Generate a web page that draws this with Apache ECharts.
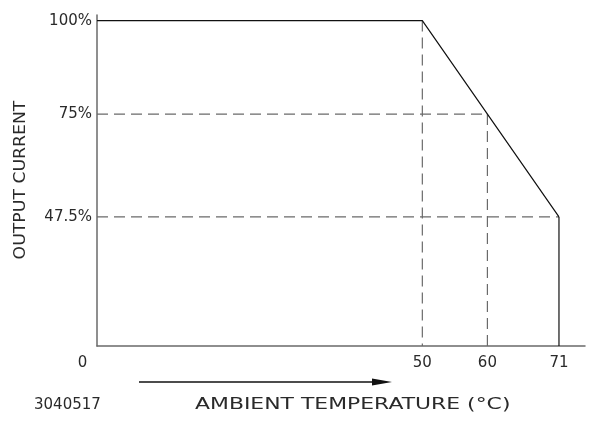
<!DOCTYPE html>
<html>
<head>
<meta charset="utf-8">
<script src="https://cdn.jsdelivr.net/npm/echarts@6/dist/echarts.min.js"></script>
<style>html,body{margin:0;padding:0;background:#fff}#c{width:589px;height:421px}</style>
</head>
<body>
<div id="c"></div>
<script>
// Derating curve: ambient temperature (°C) vs output current (%)
var temps = [0, 50, 71];
var currents = [100, 100, 47.5];
// Guide point on the slope
var guideTemp = 60;
var guideCurrent = 75;
// Tick labels
var xTicks = [0, 50, 60, 71];
var yTicks = [47.5, 75, 100];
var X_MIN = 0, X_MAX = 75;
var Y_MIN = 13, Y_MAX = 101.5;
var xTitle = 'AMBIENT TEMPERATURE (°C)';
var yTitle = 'OUTPUT CURRENT';
var drawingNo = '3040517';

var FONT = 'DejaVu Sans';
var TXT = '#2a2a2a';
var chart = echarts.init(document.getElementById('c'), null, {renderer: 'canvas'});

var curve = temps.map(function (t, i) { return [t, currents[i]]; });
var lastT = temps[temps.length - 1], lastC = currents[currents.length - 1];
var kneeT = temps[1], kneeC = currents[1];

var dash = {color: '#6a6a6a', width: 1.2, type: [11, 6]};
function seg(a, b, style, z) {
  return {type: 'line', data: [a, b], symbol: 'none', silent: true, z: z || 2,
    lineStyle: style, animation: false};
}

chart.setOption({
  animation: false,
  grid: {left: 97, right: 4, top: 15, bottom: 75},
  xAxis: {
    type: 'value', min: X_MIN, max: X_MAX,
    axisLine: {show: true, lineStyle: {color: '#6a6a6a', width: 1.5}},
    axisTick: {show: false},
    splitLine: {show: false},
    axisLabel: {
      customValues: xTicks, margin: 10,
      fontFamily: FONT, fontSize: 15, color: TXT,
      formatter: function (v) { return v === 0 ? '{o|0}' : String(v); },
      rich: {o: {fontFamily: FONT, fontSize: 15, color: TXT, padding: [0, 29, 0, 0]}}
    }
  },
  yAxis: {
    type: 'value', min: Y_MIN, max: Y_MAX,
    axisLine: {show: true, lineStyle: {color: '#6a6a6a', width: 1.5}},
    axisTick: {show: false},
    splitLine: {show: false},
    axisLabel: {
      customValues: yTicks, margin: 5,
      fontFamily: FONT, fontSize: 15, color: TXT,
      verticalAlign: 'middle', padding: [0, 0, 10, 0],
      formatter: function (v) { return v + '%'; }
    }
  },
  series: [
    {type: 'line', data: curve, symbol: 'none', silent: true, z: 3,
      lineStyle: {color: '#111', width: 1.2}},
    seg([lastT, lastC], [lastT, Y_MIN], {color: '#111', width: 1.2}, 3),
    seg([X_MIN, guideCurrent], [guideTemp, guideCurrent], dash),
    seg([X_MIN, lastC], [lastT, lastC], dash),
    seg([kneeT, kneeC], [kneeT, Y_MIN], dash),
    seg([guideTemp, guideCurrent], [guideTemp, Y_MIN], dash)
  ],
  graphic: [
    {type: 'line', shape: {x1: 139, y1: 382, x2: 374, y2: 382},
      style: {stroke: '#111', lineWidth: 1.3}},
    {type: 'polygon', shape: {points: [[372, 378.5], [392, 382], [372, 385.5]]},
      style: {fill: '#111'}},
    {type: 'text', x: 195, y: 398, scaleX: 1.46,
      style: {text: xTitle, font: '15px "DejaVu Sans"', fill: TXT}},
    {type: 'text', x: 34, y: 398,
      style: {text: drawingNo, font: '15px "DejaVu Sans"', fill: TXT}},
    {type: 'text', x: 21, y: 180, rotation: Math.PI / 2, scaleX: 1.15,
      style: {text: yTitle, font: '15px "DejaVu Sans"', fill: TXT,
        align: 'center', verticalAlign: 'middle'}}
  ]
});
</script>
</body>
</html>
